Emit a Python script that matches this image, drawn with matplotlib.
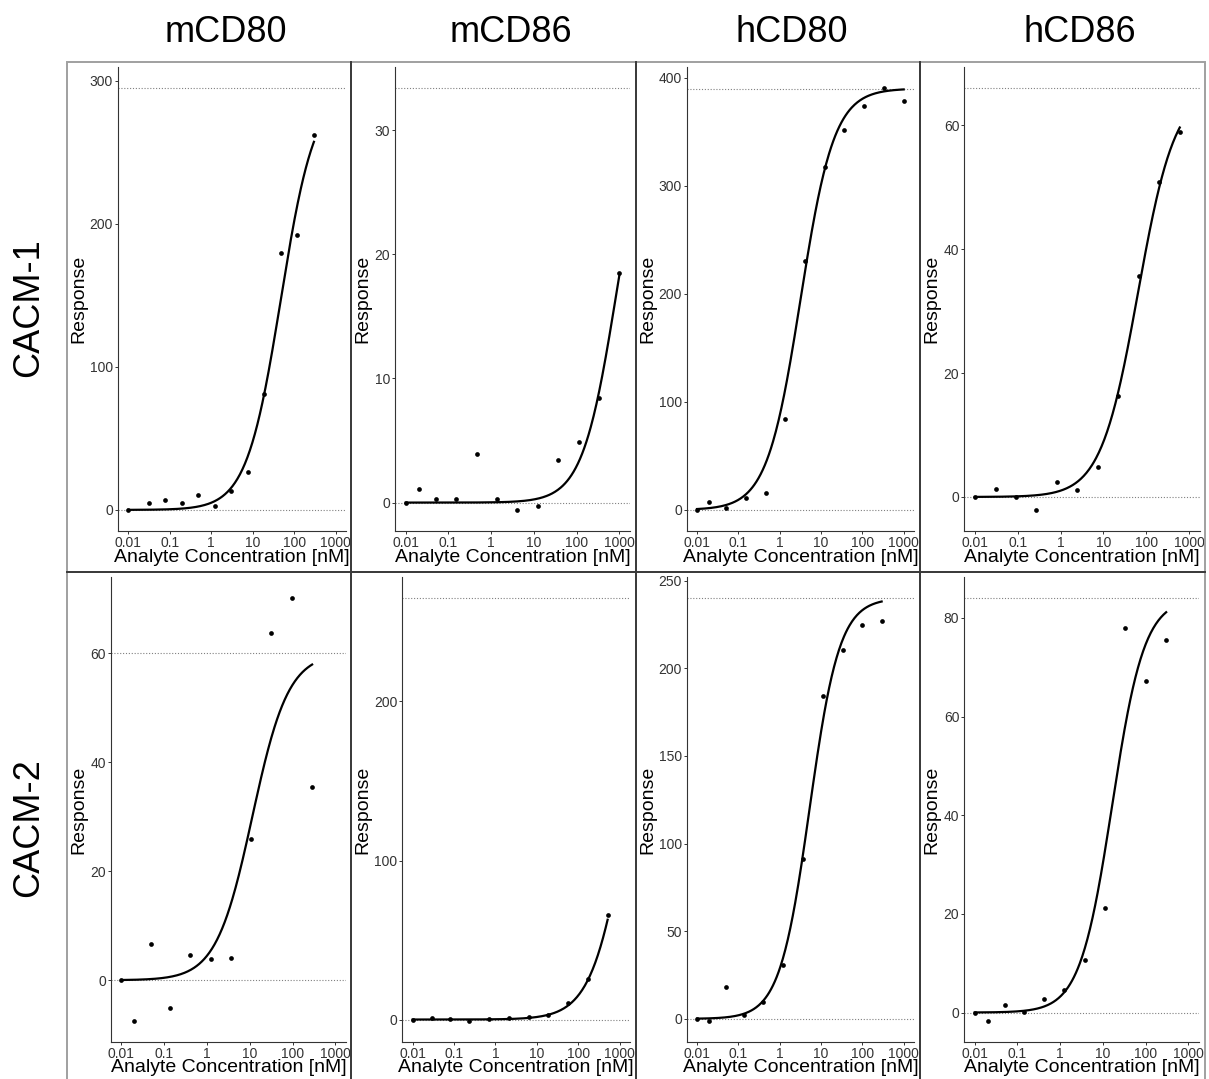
import numpy as np
import matplotlib
matplotlib.use("Agg")
import matplotlib.pyplot as plt
from matplotlib.ticker import MultipleLocator, FixedLocator, FixedFormatter
from matplotlib.patches import Rectangle
from matplotlib.lines import Line2D

plt.rcParams["font.family"] = ["Liberation Sans", "DejaVu Sans"]

# ---- data -------------------------------------------------------------
columns = ["mCD80", "mCD86", "hCD80", "hCD86"]
rows = ["CACM-1", "CACM-2"]
xtick_values = [0.01, 0.1, 1, 10, 100, 1000]
xtick_labels = ["0.01", "0.1", "1", "10", "100", "1000"]

# CACM-1
conc_c1_mcd80 = [0.01, 0.0315, 0.0786, 0.197, 0.492, 1.23, 3.07, 7.68, 19.2, 48, 120, 300]
resp_c1_mcd80 = [0, 4.9, 7.0, 5.1, 10.5, 2.8, 13.5, 26.3, 81.3, 179.8, 192.6, 262.3]
conc_c1_mcd86 = [0.01, 0.02, 0.0508, 0.152, 0.457, 1.37, 4.12, 12.3, 37, 111, 333, 1000]
resp_c1_mcd86 = [0, 1.1, 0.27, 0.27, 3.94, 0.32, -0.59, -0.27, 3.43, 4.91, 8.40, 18.5]
conc_c1_hcd80 = [0.01, 0.02, 0.0508, 0.152, 0.457, 1.37, 4.12, 12.3, 37, 111, 333, 1000]
resp_c1_hcd80 = [0, 7.7, 1.8, 10.8, 16.0, 84.1, 230.2, 317.4, 351.9, 373.5, 390.4, 378.1]
conc_c1_hcd86 = [0.01, 0.0305, 0.0914, 0.274, 0.823, 2.47, 7.41, 22.2, 66.7, 200, 600]
resp_c1_hcd86 = [0, 1.34, 0, -2.09, 2.41, 1.18, 4.88, 16.25, 35.7, 50.8, 58.9]

# CACM-2
conc_c2_mcd80 = [0.01, 0.02, 0.05, 0.138, 0.41, 1.22, 3.66, 10.7, 32.2, 96.4, 287]
resp_c2_mcd80 = [0, -7.45, 6.66, -5.0, 4.70, 3.97, 4.09, 25.96, 63.65, 70.07, 35.5]
conc_c2_mcd86 = [0.01, 0.030, 0.0805, 0.233, 0.70, 2.10, 6.3, 18.9, 56.8, 170.6, 512]
resp_c2_mcd86 = [0, 0.84, 0.4, -0.84, 0.2, 0.84, 1.47, 2.94, 10.5, 25.4, 65.5]
conc_c2_hcd80 = [0.01, 0.02, 0.0496, 0.140, 0.404, 1.236, 3.63, 10.9, 33.3, 99.5, 293]
resp_c2_hcd80 = [0, -1.14, 18.4, 2.47, 9.5, 30.9, 91.2, 184.4, 210.5, 224.6, 227.0]
conc_c2_hcd86 = [0.01, 0.0202, 0.05, 0.14, 0.414, 1.25, 3.76, 11.3, 33.4, 100.7, 303]
resp_c2_hcd86 = [0, -1.69, 1.55, 0.14, 2.77, 4.66, 10.67, 21.1, 78.0, 67.3, 75.5]

# dose-response fit parameters (Rmax, EC50 in nM, Hill slope)
rmax_c1 = [295, 33.4, 390, 66]
ec50_c1 = [48, 840, 3.2, 64]
hill_c1 = [1.05, 1.1, 1.07, 1.0]
rmax_c2 = [60, 265, 240, 84]
ec50_c2 = [11.5, 1650, 5.3, 16.5]
hill_c2 = [1.03, 1.0, 1.2, 1.15]

ystep_c1 = [100, 10, 100, 20]
ystep_c2 = [20, 100, 50, 20]

conc = [[conc_c1_mcd80, conc_c1_mcd86, conc_c1_hcd80, conc_c1_hcd86],
        [conc_c2_mcd80, conc_c2_mcd86, conc_c2_hcd80, conc_c2_hcd86]]
resp = [[resp_c1_mcd80, resp_c1_mcd86, resp_c1_hcd80, resp_c1_hcd86],
        [resp_c2_mcd80, resp_c2_mcd86, resp_c2_hcd80, resp_c2_hcd86]]
rmax = [rmax_c1, rmax_c2]
ec50 = [ec50_c1, ec50_c2]
hill = [hill_c1, hill_c2]
ystep = [ystep_c1, ystep_c2]

# ---- layout (pixels) --------------------------------------------------
W, H = 1209, 1079
fig = plt.figure(figsize=(W / 100, H / 100), dpi=100)

axes_x = [[(117.7, 346), (395, 630), (686.7, 914), (964, 1200)],
          [(110.7, 346), (402.3, 630), (686.7, 914), (964, 1199)]]
axes_y = [(67, 531), (577, 1042)]
panel_x = [67, 351, 636, 920, 1205]
panel_y = [62, 572, 1082]

def fx(px):
    return px / W

def fy(py):
    return 1 - py / H

tick_col = "#333333"

for r in range(2):
    for c in range(4):
        x0, x1 = axes_x[r][c]
        yt, yb = axes_y[r]
        ax = fig.add_axes([fx(x0), fy(yb), fx(x1) - fx(x0), (yb - yt) / H])
        xs = np.array(conc[r][c], dtype=float)
        ys = np.array(resp[r][c], dtype=float)
        top, k, n = rmax[r][c], ec50[r][c], hill[r][c]

        xc = np.geomspace(xs.min(), xs.max(), 300)
        yc = top / (1 + (k / xc) ** n)

        ax.axhline(0, color="#808080", lw=0.8, ls=(0, (1, 1.6)), zorder=1)
        ax.axhline(top, color="#808080", lw=0.8, ls=(0, (1, 1.6)), zorder=1)
        ax.plot(xc, yc, color="black", lw=1.6, zorder=3)
        ax.plot(xs, ys, "o", color="black", ms=3.4, mew=0, zorder=4)

        ax.set_xscale("log")
        ax.set_xlim(10 ** -2.25, 10 ** 3.25)
        lo = min(ys.min(), yc.min(), 0, top)
        hi = max(ys.max(), yc.max(), 0, top)
        pad = 0.05 * (hi - lo)
        ax.set_ylim(lo - pad, hi + pad)

        ax.xaxis.set_major_locator(FixedLocator(xtick_values))
        ax.xaxis.set_major_formatter(FixedFormatter(xtick_labels))
        ax.xaxis.set_minor_locator(FixedLocator([]))
        ax.yaxis.set_major_locator(MultipleLocator(ystep[r][c]))
        ax.yaxis.set_major_formatter(plt.FuncFormatter(lambda v, p: f"{v:g}"))

        for s in ["top", "right"]:
            ax.spines[s].set_visible(False)
        for s in ["left", "bottom"]:
            ax.spines[s].set_color("#333333")
            ax.spines[s].set_linewidth(0.8)
        ax.tick_params(axis="both", length=2.2, width=0.7, color="#333333",
                       labelsize=10, labelcolor=tick_col, pad=1.2)
        ax.patch.set_alpha(0)

        # axis titles
        fig.text(fx(panel_x[c] + 12), fy((yt + yb) / 2), "Response",
                 rotation=90, ha="center", va="center", fontsize=14)
        fig.text(fx((x0 + x1) / 2), fy(yb + 26), "Analyte Concentration [nM]",
                 ha="center", va="center", fontsize=14)

# panel frames
for r in range(2):
    for c in range(4):
        rect = Rectangle((fx(panel_x[c]), fy(panel_y[r + 1])),
                         fx(panel_x[c + 1]) - fx(panel_x[c]),
                         (panel_y[r + 1] - panel_y[r]) / H,
                         transform=fig.transFigure, fill=False,
                         edgecolor="#a0a0a0", lw=1.4, zorder=0)
        fig.patches.append(rect)
for xv in panel_x[1:4]:
    fig.lines.append(Line2D([fx(xv), fx(xv)], [fy(panel_y[0]), fy(H + 5)],
                            transform=fig.transFigure, color="#3a3a3a", lw=1.4))
fig.lines.append(Line2D([fx(panel_x[0]), fx(panel_x[4])], [fy(panel_y[1]), fy(panel_y[1])],
                        transform=fig.transFigure, color="#3a3a3a", lw=1.4))

# column and row headers
title_x = [226, 511, 792, 1080]
for c, name in enumerate(columns):
    fig.text(fx(title_x[c]), fy(32), name, ha="center", va="center", fontsize=26)
row_y = [308, 828]
for r, name in enumerate(rows):
    fig.text(fx(29), fy(row_y[r]), name, rotation=90, ha="center", va="center", fontsize=26)

fig.savefig("out.png", dpi=100, facecolor="white")
